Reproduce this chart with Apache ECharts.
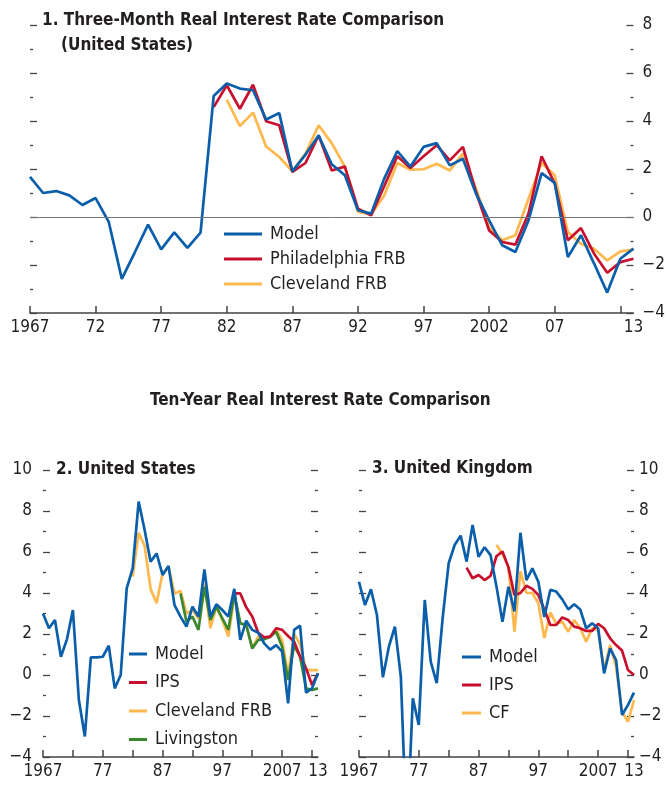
<!DOCTYPE html>
<html>
<head>
<meta charset="utf-8">
<script src="https://cdn.jsdelivr.net/npm/echarts@6/dist/echarts.min.js"></script>
<style>
  html, body { margin: 0; padding: 0; background: #fff; }
  #chart { width: 668px; height: 785px; }
</style>
</head>
<body>
<div id="chart"></div>
<script>
// panel 1: three-month real rate, US (annual, 1967-2013)
const model3mStart = 1967;
const model3m = [1.67, 1.0, 1.08, 0.9, 0.5, 0.79, -0.2, -2.58, -1.46, -0.32, -1.35, -0.64, -1.29, -0.65,
  5.04, 5.56, 5.35, 5.28, 4.06, 4.33, 1.9, 2.6, 3.4, 2.2, 1.74, 0.28, 0.14, 1.6, 2.75, 2.1, 2.92, 3.08,
  2.15, 2.43, 0.97, -0.14, -1.18, -1.46, -0.14, 1.83, 1.42, -1.67, -0.76, -1.94, -3.15, -1.74, -1.32];
const philly3mStart = 1981;
const philly3m = [4.58, 5.49, 4.51, 5.51, 3.99, 3.82, 1.88, 2.25, 3.4, 1.94, 2.1, 0.35, 0.07, 1.28, 2.53,
  2.04, 2.53, 2.99, 2.36, 2.92, 1.04, -0.56, -1.04, -1.15, 0.14, 2.53, 1.39, -0.97, -0.46, -1.53, -2.32,
  -1.88, -1.74];
const cleve3mStart = 1982;
const cleve3m = [4.89, 3.79, 4.35, 2.94, 2.5, 1.9, 2.64, 3.82, 3.08, 2.1, 0.21, 0.11, 0.9, 2.25, 1.97,
  1.99, 2.22, 1.94, 2.64, 1.18, -0.42, -0.97, -0.76, 0.76, 2.25, 1.74, -0.63, -1.11, -1.32, -1.81, -1.43,
  -1.36];

// panel 2: ten-year real rate, US
const modelUSStart = 1967;
const modelUS = [3.0, 2.28, 2.68, 0.89, 1.74, 3.17, -1.22, -3.0, 0.86, 0.86, 0.89, 1.43, -0.65, 0.0,
  4.23, 5.2, 8.46, 7.07, 5.53, 5.93, 4.88, 5.32, 3.41, 2.85, 2.36, 3.33, 2.85, 5.15, 2.85, 3.45, 3.17,
  2.85, 4.2, 1.71, 2.65, 2.2, 2.06, 1.54, 1.24, 1.46, 1.14, -1.38, 2.2, 2.41, -0.86, -0.65, 0.08];
const ipsUSStart = 1999;
const ipsUS = [3.98, 3.98, 3.3, 2.85, 2.06, 1.84, 1.87, 2.28, 2.2, 1.9, 1.63, 0.9, 0.33, -0.49, 0.08];
const cleveUSStart = 1982;
const cleveUS = [4.8, 6.94, 6.29, 4.2, 3.5, 4.96, 5.28, 3.98, 4.1, 3.0, 3.17, 2.76, 4.47, 2.28, 3.33,
  2.68, 1.87, 3.82, 2.52, 2.44, 1.3, 1.87, 1.8, 1.87, 2.2, 1.71, 0.0, 2.0, 1.5, 0.24, 0.24, 0.24];
const livUSStart = 1990;
const livUS = [3.98, 2.6, 2.85, 2.2, 4.3, 2.68, 3.33, 2.76, 2.2, 3.98, 2.52, 2.44, 1.3, 1.71, 1.74, 1.87,
  2.11, 1.38, -0.24, 1.45, 0.9, -0.65, -0.73, -0.65];

// panel 3: ten-year real rate, UK
const modelUKStart = 1967;
const modelUK = [4.55, 3.41, 4.18, 2.93, -0.11, 1.38, 2.36, -0.08, -8.0, -1.14, -2.44, 3.66, 0.65, -0.4,
  2.8, 5.45, 6.34, 6.8, 5.53, 7.32, 5.77, 6.23, 5.85, 4.31, 2.6, 4.3, 3.1, 6.94, 4.63, 5.2, 4.55, 2.83,
  4.15, 4.07, 3.69, 3.2, 3.45, 3.2, 2.28, 2.52, 2.28, 0.08, 1.3, 0.73, -1.95, -1.46, -0.86];
const ipsUKStart = 1985;
const ipsUK = [5.24, 4.72, 4.88, 4.63, 4.83, 5.8, 6.02, 5.25, 3.9, 4.0, 4.35, 4.2, 3.9, 3.2, 2.44, 2.44,
  2.81, 2.68, 2.36, 2.28, 2.15, 2.15, 2.49, 2.28, 1.79, 1.46, 1.19, 0.24, 0.0];
const cfUKStart = 1990;
const cfUK = [6.34, 5.9, 5.28, 2.11, 5.05, 4.0, 4.0, 3.5, 1.79, 3.05, 2.5, 2.6, 2.11, 2.68, 2.28, 1.63,
  2.28, 2.2, 0.24, 1.46, 0.41, -1.8, -2.28, -1.22];

// ticks every five years; the last label ("13") sits at the axis end
const tickYears5 = [1967, 1972, 1977, 1982, 1987, 1992, 1997, 2002, 2007, 2012];
const labelYears5 = [1967, 1972, 1977, 1982, 1987, 1992, 1997, 2002, 2007, 2013];
const labelYears10 = [1967, 1977, 1987, 1997, 2007, 2013];

const BLUE = '#0b5faa', RED = '#c8102e', ORANGE = '#fdb94f', GREEN = '#3b872f';
const FONT = '"Liberation Sans Narrow", "DejaVu Sans Condensed", Arial, sans-serif';
const TXT = '#231f20';

function pairs(start, vals) {
  return vals.map((v, i) => [start + i, v]);
}

function yearLabel(v) {
  if (v === 1967 || v === 2002) return String(v);
  return String(v % 100).padStart(2, '0');
}

function yearLabel10(v) {
  if (v === 1967 || v === 2007) return String(v);
  return String(v % 100);
}

function numLabel(v) {
  return v < 0 ? '\u2212' + Math.abs(v) : String(v);
}

function xAxis(grid, labelVals, fmt) {
  return {
    type: 'value', gridIndex: grid, min: 1967, max: 2013,
    splitLine: { show: false },
    axisLine: { show: true, onZero: false, lineStyle: { color: '#444', width: 1.5 } },
    axisTick: { show: true, inside: true, length: 7, customValues: tickYears5,
      lineStyle: { color: '#444', width: 1.5 } },
    axisLabel: { show: true, customValues: labelVals, formatter: fmt, margin: 6,
      showMinLabel: true, showMaxLabel: true, hideOverlap: false,
      fontFamily: FONT, fontSize: 17, color: TXT }
  };
}

function yAxis(grid, pos, showLabel, max, margin) {
  return {
    type: 'value', gridIndex: grid, position: pos, min: -4, max: max, interval: 2,
    splitLine: { show: false },
    axisLine: { show: false },
    axisTick: { show: true, inside: true, length: 7, lineStyle: { color: '#444', width: 1.3 } },
    minorTick: { show: true, splitNumber: 2, length: 3, lineStyle: { color: '#444', width: 1.3 } },
    axisLabel: { show: showLabel, formatter: numLabel, margin: margin,
      fontFamily: FONT, fontSize: 17, color: TXT }
  };
}

function line(name, data, color, xi, yi, z) {
  return {
    name: name, type: 'line', xAxisIndex: xi, yAxisIndex: yi, data: data,
    symbol: 'none', z: z, animation: false,
    lineStyle: { color: color, width: 2.7 }, itemStyle: { color: color }
  };
}

function legend(names, left, top, w, gap) {
  return {
    data: names, orient: 'vertical', left: left, top: top, icon: 'rect',
    itemWidth: w, itemHeight: 3, itemGap: gap, selectedMode: false, padding: 0,
    textStyle: { fontFamily: FONT, fontSize: 18, lineHeight: 20, color: TXT, padding: [0, 0, 0, 3] }
  };
}

const chart = echarts.init(document.getElementById('chart'), null, { renderer: 'canvas' });

const titleStyle = { fontFamily: FONT, fontSize: 17, fontWeight: 'bold', color: TXT };

chart.setOption({
  animation: false,
  title: [
    { text: '1. Three-Month Real Interest Rate Comparison', left: 42, top: 12, padding: 0, textStyle: titleStyle },
    { text: '(United States)', left: 61, top: 37, padding: 0, textStyle: titleStyle },
    { text: 'Ten-Year Real Interest Rate Comparison', left: 150, top: 392, padding: 0, textStyle: titleStyle },
    { text: '2. United States', left: 56, top: 461, padding: 0, textStyle: titleStyle },
    { text: '3. United Kingdom', left: 372, top: 460, padding: 0, textStyle: titleStyle }
  ],
  grid: [
    { left: 30, right: 32, top: 25, height: 288 },
    { left: 43, right: 350, top: 470, height: 287 },
    { left: 359, right: 34, top: 470, height: 287 }
  ],
  xAxis: [
    xAxis(0, labelYears5, yearLabel),
    xAxis(1, labelYears10, yearLabel10),
    xAxis(2, labelYears10, yearLabel10)
  ],
  yAxis: [
    yAxis(0, 'left', false, 8, 8),
    yAxis(0, 'right', true, 8, 9),
    yAxis(1, 'left', true, 10, 11),
    yAxis(1, 'right', false, 10, 8),
    yAxis(2, 'left', false, 10, 8),
    yAxis(2, 'right', true, 10, 5)
  ],
  legend: [
    legend(['Model', 'Philadelphia FRB', 'Cleveland FRB'], 224, 224, 38, 5),
    legend(['Model', 'IPS', 'Cleveland FRB', 'Livingston'], 129, 644, 18, 8.5),
    legend(['Model', 'IPS', 'CF'], 462, 647, 19, 8)
  ],
  series: [
    Object.assign(line('Cleveland FRB', pairs(cleve3mStart, cleve3m), ORANGE, 0, 0, 2), {
      markLine: { silent: true, symbol: 'none', label: { show: false },
        lineStyle: { color: '#777', width: 1, type: 'solid' }, data: [{ yAxis: 0 }] }
    }),
    line('Philadelphia FRB', pairs(philly3mStart, philly3m), RED, 0, 0, 3),
    line('Model', pairs(model3mStart, model3m), BLUE, 0, 0, 4),

    line('Cleveland FRB', pairs(cleveUSStart, cleveUS), ORANGE, 1, 2, 2),
    line('Livingston', pairs(livUSStart, livUS), GREEN, 1, 2, 3),
    line('IPS', pairs(ipsUSStart, ipsUS), RED, 1, 2, 3),
    line('Model', pairs(modelUSStart, modelUS), BLUE, 1, 2, 4),

    line('CF', pairs(cfUKStart, cfUK), ORANGE, 2, 4, 2),
    line('IPS', pairs(ipsUKStart, ipsUK), RED, 2, 4, 3),
    line('Model', pairs(modelUKStart, modelUK), BLUE, 2, 4, 4)
  ]
});
</script>
</body>
</html>
